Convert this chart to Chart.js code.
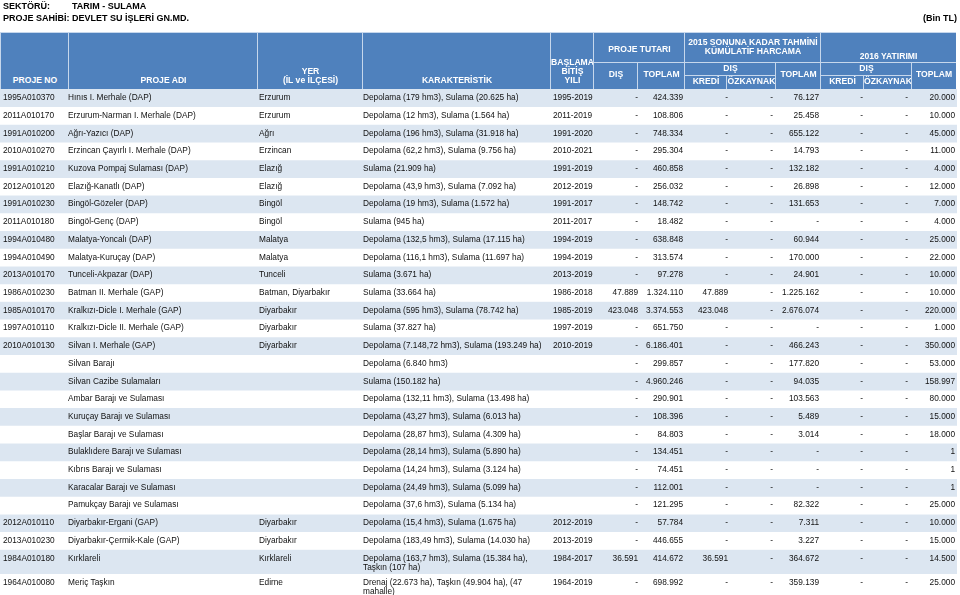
<!DOCTYPE html>
<html><head><meta charset="utf-8">
<script src="https://cdn.jsdelivr.net/npm/chart.js@4.4.1/dist/chart.umd.min.js"></script>
<style>
html,body{margin:0;padding:0;background:#fff;overflow:hidden;}
#wrap{position:relative;width:960px;height:595px;overflow:hidden;font-family:"Liberation Sans",Arial,sans-serif;}
#c{position:absolute;left:0;top:0;}
.t{position:absolute;white-space:nowrap;font-weight:bold;font-size:9px;color:#000;line-height:10px;}
.h{position:absolute;box-sizing:border-box;background:#4f81bd;border-left:1px solid #c6d7ec;border-top:1px solid #c6d7ec;color:#fff;font-weight:bold;font-size:8.6px;line-height:9px;text-align:center;display:flex;flex-direction:column;align-items:center;white-space:nowrap;}
</style></head><body>
<div id="wrap"><canvas id="c" width="960" height="598"></canvas></div>
<script>
// ---------- DATA ----------
const projeNo = ["1995A010370","2011A010170","1991A010200","2010A010270","1991A010210","2012A010120","1991A010230","2011A010180","1994A010480","1994A010490","2013A010170","1986A010230","1985A010170","1997A010110","2010A010130","","","","","","","","","","2012A010110","2013A010230","1984A010180","1964A010080"];
const projeAdi = ["Hınıs I. Merhale (DAP)","Erzurum-Narman I. Merhale (DAP)","Ağrı-Yazıcı (DAP)","Erzincan Çayırlı I. Merhale (DAP)","Kuzova Pompaj Sulaması (DAP)","Elazığ-Kanatlı (DAP)","Bingöl-Gözeler (DAP)","Bingöl-Genç (DAP)","Malatya-Yoncalı (DAP)","Malatya-Kuruçay (DAP)","Tunceli-Akpazar (DAP)","Batman II. Merhale (GAP)","Kralkızı-Dicle I. Merhale (GAP)","Kralkızı-Dicle II. Merhale (GAP)","Silvan I. Merhale (GAP)","Silvan Barajı","Silvan Cazibe Sulamaları","Ambar Barajı ve Sulaması","Kuruçay Barajı ve Sulaması","Başlar Barajı ve Sulaması","Bulaklıdere Barajı ve Sulaması","Kıbrıs Barajı ve Sulaması","Karacalar Barajı ve Sulaması","Pamukçay Barajı ve Sulaması","Diyarbakır-Ergani (GAP)","Diyarbakır-Çermik-Kale (GAP)","Kırklareli","Meriç Taşkın"];
const yer = ["Erzurum","Erzurum","Ağrı","Erzincan","Elazığ","Elazığ","Bingöl","Bingöl","Malatya","Malatya","Tunceli","Batman, Diyarbakır","Diyarbakır","Diyarbakır","Diyarbakır","","","","","","","","","","Diyarbakır","Diyarbakır","Kırklareli","Edirne"];
const karakteristik = ["Depolama (179 hm3), Sulama (20.625 ha)","Depolama (12 hm3), Sulama (1.564 ha)","Depolama (196 hm3), Sulama (31.918 ha)","Depolama (62,2 hm3), Sulama (9.756 ha)","Sulama (21.909 ha)","Depolama (43,9 hm3), Sulama (7.092 ha)","Depolama (19 hm3), Sulama (1.572 ha)","Sulama (945 ha)","Depolama (132,5 hm3), Sulama (17.115 ha)","Depolama (116,1 hm3), Sulama (11.697 ha)","Sulama (3.671 ha)","Sulama (33.664 ha)","Depolama (595 hm3), Sulama (78.742 ha)","Sulama (37.827 ha)","Depolama (7.148,72 hm3), Sulama (193.249 ha)","Depolama (6.840 hm3)","Sulama (150.182 ha)","Depolama (132,11 hm3), Sulama (13.498 ha)","Depolama (43,27 hm3), Sulama (6.013 ha)","Depolama (28,87 hm3), Sulama (4.309 ha)","Depolama (28,14 hm3), Sulama (5.890 ha)","Depolama (14,24 hm3), Sulama (3.124 ha)","Depolama (24,49 hm3), Sulama (5.099 ha)","Depolama (37,6 hm3), Sulama (5.134 ha)","Depolama (15,4 hm3), Sulama (1.675 ha)","Depolama (183,49 hm3), Sulama (14.030 ha)","Depolama (163,7 hm3), Sulama (15.384 ha),\nTaşkın (107 ha)","Drenaj (22.673 ha), Taşkın (49.904 ha), (47\nmahalle)"];
const yillar = ["1995-2019","2011-2019","1991-2020","2010-2021","1991-2019","2012-2019","1991-2017","2011-2017","1994-2019","1994-2019","2013-2019","1986-2018","1985-2019","1997-2019","2010-2019","","","","","","","","","","2012-2019","2013-2019","1984-2017","1964-2019"];
// Values in thousand TL; null = "-"
const tutarDis     = [null,null,null,null,null,null,null,null,null,null,null,47889,423048,null,null,null,null,null,null,null,null,null,null,null,null,null,36591,null];
const tutarToplam  = [424339,108806,748334,295304,460858,256032,148742,18482,638848,313574,97278,1324110,3374553,651750,6186401,299857,4960246,290901,108396,84803,134451,74451,112001,121295,57784,446655,414672,698992];
const harcamaKredi = [null,null,null,null,null,null,null,null,null,null,null,47889,423048,null,null,null,null,null,null,null,null,null,null,null,null,null,36591,null];
const harcamaOzk   = new Array(28).fill(null);
const harcamaToplam= [76127,25458,655122,14793,132182,26898,131653,null,60944,170000,24901,1225162,2676074,null,466243,177820,94035,103563,5489,3014,null,null,null,82322,7311,3227,364672,359139];
const yatirimKredi = new Array(28).fill(null);
const yatirimOzk   = new Array(28).fill(null);
const yatirimToplam= [20000,10000,45000,11000,4000,12000,7000,4000,25000,22000,10000,10000,220000,1000,350000,53000,158997,80000,15000,18000,1,1,1,25000,10000,15000,14500,25000];

// ---------- LAYOUT / STYLE ----------
const EXTRA_LINE = 0.37;        // extra row height (in row units) for each additional text line
const TEXT_COLS = [             // left aligned text columns: x = left edge
  {src: projeNo, x: 3}, {src: projeAdi, x: 68}, {src: yer, x: 259},
  {src: karakteristik, x: 363}, {src: yillar, x: 553}
];
const NUM_COLS = [              // right aligned number columns: x = right edge
  {src: tutarDis, x: 638}, {src: tutarToplam, x: 683},
  {src: harcamaKredi, x: 728}, {src: harcamaOzk, x: 773}, {src: harcamaToplam, x: 819},
  {src: yatirimKredi, x: 863}, {src: yatirimOzk, x: 908}, {src: yatirimToplam, x: 955}
];
const BODY_FONT = '8.3px "Liberation Sans", Arial, sans-serif';
const LINE_GAP = 9;

// header (html text)
const wrap = document.getElementById('wrap');
function addT(txt, left, top, extra){ const d=document.createElement('div'); d.className='t'; d.textContent=txt; d.style.left=left+'px'; d.style.top=top+'px'; if(extra) Object.assign(d.style, extra); wrap.appendChild(d); }
addT('SEKTÖRÜ:', 3, 1); addT('TARIM - SULAMA', 72, 1);
addT('PROJE SAHİBİ:', 3, 13); addT('DEVLET SU İŞLERİ GN.MD.', 72, 13);
addT('(Bin TL)', 0, 13, {left:'auto', right:'3px'});

const HEAD = [
  {t:['PROJE NO'], x0:0, x1:68, y0:32, y1:89, pb:4},
  {t:['PROJE ADI'], x0:68, x1:257, y0:32, y1:89, pb:4},
  {t:['YER','(İL ve İLÇESİ)'], x0:257, x1:362, y0:32, y1:89, pb:4},
  {t:['KARAKTERİSTİK'], x0:362, x1:550, y0:32, y1:89, pb:4},
  {t:['BAŞLAMA','BİTİŞ','YILI'], x0:550, x1:593, y0:32, y1:89, pb:4},
  {t:['PROJE TUTARI'], x0:593, x1:684, y0:32, y1:62, pb:8},
  {t:['DIŞ'], x0:593, x1:637, y0:62, y1:89, pb:10},
  {t:['TOPLAM'], x0:637, x1:684, y0:62, y1:89, pb:10},
  {t:['2015 SONUNA KADAR TAHMİNİ','KÜMÜLATİF HARCAMA'], x0:684, x1:820, y0:32, y1:62, pb:6},
  {t:['DIŞ'], x0:684, x1:775, y0:62, y1:75, pb:2},
  {t:['KREDİ'], x0:684, x1:726, y0:75, y1:89, pb:3},
  {t:['ÖZKAYNAK'], x0:726, x1:775, y0:75, y1:89, pb:3},
  {t:['TOPLAM'], x0:775, x1:820, y0:62, y1:89, pb:10},
  {t:['2016 YATIRIMI'], x0:820, x1:955, y0:32, y1:62, pb:1},
  {t:['DIŞ'], x0:820, x1:911, y0:62, y1:75, pb:2},
  {t:['KREDİ'], x0:820, x1:863, y0:75, y1:89, pb:3},
  {t:['ÖZKAYNAK'], x0:863, x1:911, y0:75, y1:89, pb:3},
  {t:['TOPLAM'], x0:911, x1:955, y0:62, y1:89, pb:10}
];
HEAD.forEach(h => {
  const d = document.createElement('div'); d.className='h';
  Object.assign(d.style, {left:h.x0+'px', top:h.y0+'px', width:(h.x1-h.x0+1)+'px', height:(h.y1-h.y0)+'px', justifyContent:'flex-end', paddingBottom:h.pb+'px'});
  h.t.forEach(s => { const sp=document.createElement('span'); sp.textContent=s; d.appendChild(sp); });
  wrap.appendChild(d);
});

// ---------- CHART ----------
const lineCount = karakteristik.map(s => s.split('\n').length);
const rowUnits = lineCount.map(n => 1 + EXTRA_LINE * (n - 1));
const totalUnits = rowUnits.reduce((a,b)=>a+b,0);
const fmt = v => v == null ? '-' : String(v).replace(/\B(?=(\d{3})+(?!\d))/g, '.');

const cellText = {
  id: 'cellText',
  afterDatasetsDraw(chart) {
    const ctx = chart.ctx, cols = chart.scales.cols;
    ctx.save();
    ctx.font = BODY_FONT; ctx.fillStyle = '#111'; ctx.textBaseline = 'middle';
    rowUnits.forEach((u, r) => {
      const el = chart.getDatasetMeta(r).data[0];
      const top = Math.min(el.y, el.base);
      const unitPx = Math.abs(el.base - el.y) / u;
      const y0 = top + unitPx / 2;
      ctx.textAlign = 'left';
      TEXT_COLS.forEach(c => {
        String(c.src[r]).split('\n').forEach((ln, k) => ctx.fillText(ln, cols.getPixelForValue(c.x), y0 + k * LINE_GAP));
      });
      ctx.textAlign = 'right';
      NUM_COLS.forEach(c => ctx.fillText(fmt(c.src[r]), cols.getPixelForValue(c.x), y0));
    });
    ctx.restore();
  }
};

new Chart(document.getElementById('c'), {
  type: 'bar',
  data: {
    labels: ['tablo'],
    datasets: rowUnits.map((u, i) => ({
      label: projeNo[i] || projeAdi[i],
      data: [u],
      backgroundColor: i % 2 === 0 ? '#dce6f1' : '#ffffff',
      borderWidth: 0,
      barPercentage: 1,
      categoryPercentage: 1,
      stack: 'rows'
    }))
  },
  options: {
    responsive: false,
    animation: false,
    events: [],
    layout: { padding: { top: 89, right: 3, left: 0, bottom: 0 } },
    plugins: { legend: { display: false }, tooltip: { enabled: false } },
    scales: {
      x: { display: false, stacked: true, offset: true },
      cols: { type: 'linear', axis: 'x', position: 'bottom', display: false, offset: false, min: 0, max: 957 },
      y: { display: false, stacked: true, reverse: true, min: 0, max: totalUnits }
    }
  },
  plugins: [cellText]
});
</script>
</body></html>
